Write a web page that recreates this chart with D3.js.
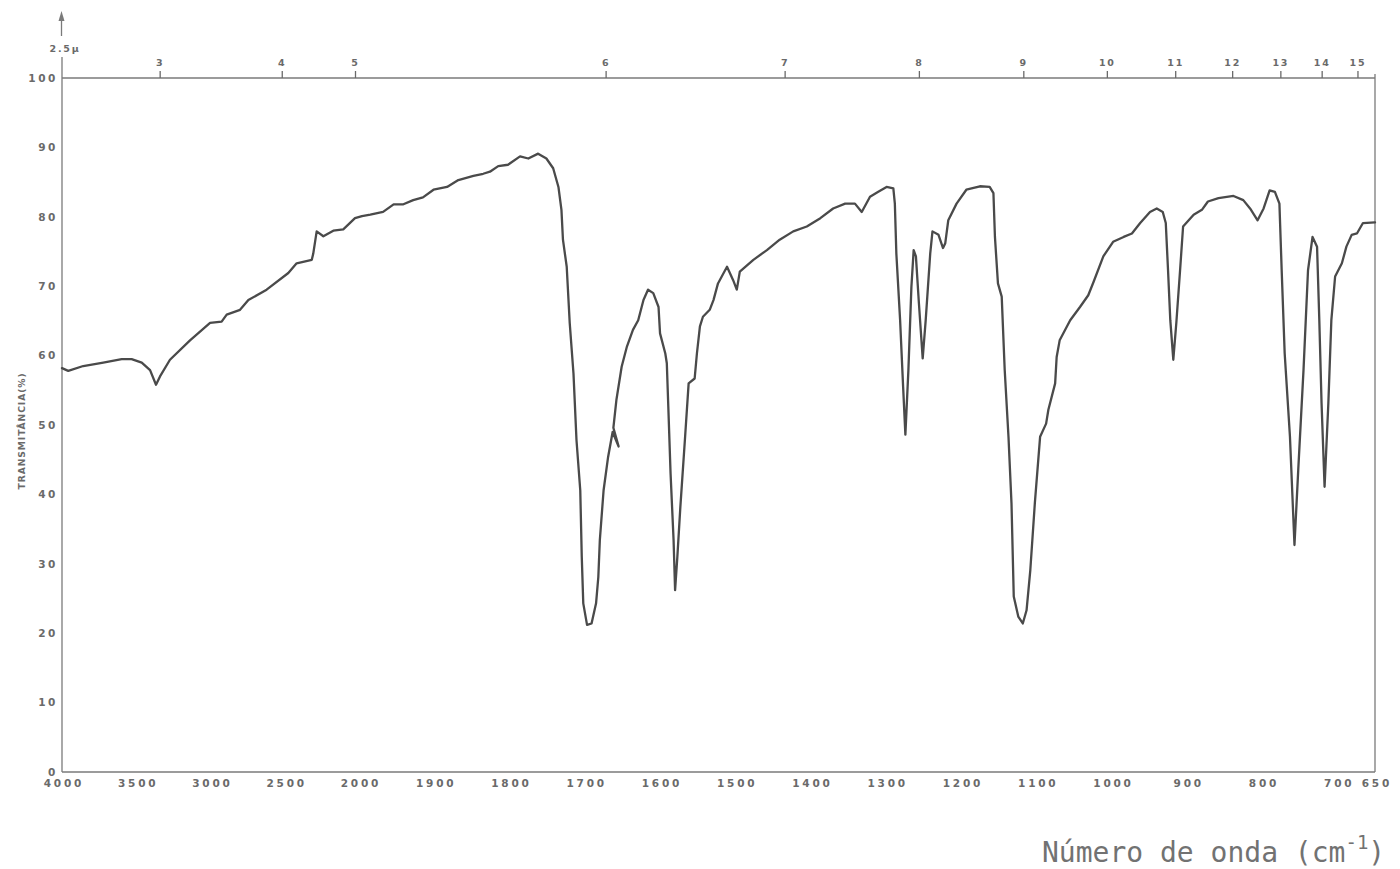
<!DOCTYPE html>
<html>
<head>
<meta charset="utf-8">
<script src="https://cdn.jsdelivr.net/npm/d3@7"></script>
<style>
  html, body { margin: 0; padding: 0; background: #fff; }
  svg { display: block; }
</style>
</head>
<body>
<svg id="chart" width="1400" height="869"></svg>
<script>
// Infrared spectrum: wavenumber (cm-1) vs transmittance (%)
const wavenumber = [
  4000, 3958, 3857, 3722, 3598, 3531, 3463, 3407, 3367, 3340,
  3273, 3138, 3003, 2925, 2891, 2801, 2745, 2622, 2476, 2420,
  2318, 2308, 2285, 2240, 2173, 2106, 2027, 1996, 1985, 1968,
  1954, 1941, 1928, 1915, 1901, 1883, 1868, 1848, 1835, 1826,
  1815, 1802, 1786, 1775, 1762, 1751, 1742, 1735, 1731, 1729,
  1724, 1720, 1715, 1711, 1706, 1704, 1702, 1697, 1691, 1685,
  1682, 1680, 1675, 1669, 1663, 1655, 1662, 1658, 1651, 1644,
  1636, 1629, 1622, 1616, 1609, 1602, 1600, 1593, 1591, 1589,
  1586, 1582, 1580, 1577, 1573, 1567, 1562, 1554, 1551, 1547,
  1543, 1534, 1529, 1523, 1518, 1511, 1503, 1498, 1494, 1476,
  1458, 1441, 1423, 1405, 1387, 1370, 1354, 1341, 1332, 1321,
  1310, 1299, 1290, 1288, 1286, 1281, 1277, 1274, 1270, 1266,
  1263, 1260, 1256, 1251, 1247, 1241, 1238, 1230, 1224, 1221,
  1217, 1206, 1193, 1175, 1162, 1157, 1155, 1151, 1146, 1142,
  1137, 1133, 1130, 1124, 1118, 1113, 1108, 1102, 1095, 1087,
  1084, 1075, 1073, 1069, 1055, 1042, 1031, 1024, 1011, 998,
  984, 973, 962, 949, 940, 932, 928, 925, 922, 918,
  914, 909, 905, 891, 880, 872, 858, 838, 825, 816,
  806, 798, 790, 783, 777, 774, 770, 763, 757, 752,
  745, 739, 733, 727, 724, 721, 717, 712, 708, 703,
  694, 688, 681, 674, 666, 650
];
const transmittance = [
  58.2, 57.8, 58.5, 59.0, 59.5, 59.5, 59.0, 57.9, 55.8, 57.0,
  59.4, 62.2, 64.7, 64.9, 65.9, 66.6, 68.0, 69.5, 71.9, 73.3,
  73.8, 74.7, 77.9, 77.2, 78.0, 78.2, 79.8, 80.1, 80.3, 80.7,
  81.8, 81.8, 82.4, 82.8, 83.9, 84.3, 85.3, 85.9, 86.2, 86.5,
  87.3, 87.5, 88.7, 88.4, 89.1, 88.4, 87.0, 84.3, 81.0, 76.7,
  72.8, 64.7, 57.4, 47.8, 40.6, 31.0, 24.3, 21.2, 21.4, 24.3,
  28.1, 33.4, 40.6, 45.4, 49.0, 46.9, 49.6, 53.6, 58.4, 61.3,
  63.7, 65.1, 68.0, 69.5, 69.0, 67.0, 63.2, 60.3, 58.9, 52.6,
  43.0, 33.4, 26.2, 31.0, 38.2, 47.8, 56.0, 56.7, 60.3, 64.2,
  65.6, 66.6, 68.0, 70.4, 71.4, 72.8, 70.9, 69.5, 72.1, 73.8,
  75.2, 76.7, 77.9, 78.6, 79.8, 81.2, 81.9, 81.9, 80.7, 82.9,
  83.6, 84.3, 84.1, 81.9, 74.7, 65.1, 55.5, 48.6, 57.9, 69.9,
  75.2, 74.3, 67.5, 59.6, 65.1, 74.7, 77.9, 77.4, 75.5, 76.2,
  79.5, 81.9, 83.9, 84.4, 84.3, 83.4, 77.1, 70.4, 68.5, 57.9,
  48.3, 38.7, 25.3, 22.4, 21.4, 23.3, 29.1, 38.7, 48.3, 50.2,
  52.2, 56.0, 59.8, 62.2, 65.1, 67.0, 68.7, 70.6, 74.3, 76.4,
  77.1, 77.6, 79.1, 80.7, 81.2, 80.7, 79.1, 72.3, 65.1, 59.4,
  64.7, 72.3, 78.6, 80.3, 81.0, 82.2, 82.7, 83.0, 82.4, 81.2,
  79.5, 81.2, 83.8, 83.6, 81.9, 72.3, 60.3, 48.3, 32.7, 43.5,
  57.9, 72.3, 77.1, 75.7, 65.1, 53.1, 41.1, 53.1, 65.1, 71.4,
  73.3, 75.7, 77.4, 77.6, 79.1, 79.2
];

// Axis labels
const wavenumberTicks = [4000, 3500, 3000, 2500, 2000, 1900, 1800, 1700, 1600, 1500,
                         1400, 1300, 1200, 1100, 1000, 900, 800, 700, 650];
const micronTicks = [3, 4, 5, 6, 7, 8, 9, 10, 11, 12, 13, 14, 15];
const micronStartLabel = "2.5\u03bc";
const transmittanceTicks = [0, 10, 20, 30, 40, 50, 60, 70, 80, 90, 100];
const yTitle = "TRANSMITÂNCIA(%)";

const svg = d3.select("#chart");
const plotLeft = 62, plotRight = 1375, plotTop = 78, plotBottom = 772;

// Chart paper: two linear regions, scale change at 2000 cm-1
const x = d3.scaleLinear().domain([4000, 2000, 650]).range([plotLeft, 359, plotRight]);
// Wavelength scale printed along the top edge of the paper
const xTop = d3.scaleLinear().domain([4000, 2000, 650]).range([plotLeft, 355, 1370]);
const y = d3.scaleLinear().domain([0, 100]).range([plotBottom, plotTop]);

const ink = "#6a6a6a";
const labelFont = "'DejaVu Sans', sans-serif";

// Frame
const frame = svg.append("g").attr("stroke", "#7a7a7a").attr("stroke-width", 1.3).attr("fill", "none");
frame.append("line").attr("x1", plotLeft).attr("x2", plotRight).attr("y1", plotTop).attr("y2", plotTop);
frame.append("line").attr("x1", plotLeft).attr("x2", plotRight).attr("y1", plotBottom).attr("y2", plotBottom);
frame.append("line").attr("x1", plotLeft).attr("x2", plotLeft).attr("y1", 57).attr("y2", plotBottom);
frame.append("line").attr("x1", plotRight).attr("x2", plotRight).attr("y1", plotTop - 4).attr("y2", plotBottom);

// Arrow above the left edge
frame.append("line").attr("x1", plotLeft - 0.5).attr("x2", plotLeft - 0.5).attr("y1", 16).attr("y2", 36);
svg.append("path")
  .attr("d", `M${plotLeft - 3.5},21 L${plotLeft - 0.5},11 L${plotLeft + 2.5},21 Z`)
  .attr("fill", "#7a7a7a");

// Top wavelength axis
const topAxis = svg.append("g")
  .attr("transform", `translate(0,${plotTop})`)
  .call(d3.axisTop(xTop)
    .tickValues(micronTicks.map(m => 10000 / m))
    .tickFormat((d, i) => String(micronTicks[i]))
    .tickSize(7)
    .tickPadding(5));
topAxis.select(".domain").remove();
topAxis.selectAll(".tick line").attr("stroke", "#6a6a6a").attr("stroke-width", 1.3);
topAxis.selectAll(".tick text")
  .attr("fill", ink).attr("font-family", labelFont).attr("font-size", 9.5)
  .attr("font-weight", "bold").attr("letter-spacing", 1.8);

svg.append("text")
  .attr("x", plotLeft + 3).attr("y", 52)
  .attr("text-anchor", "middle")
  .attr("fill", ink).attr("font-family", labelFont).attr("font-size", 9.5)
  .attr("font-weight", "bold").attr("letter-spacing", 1.8)
  .text(micronStartLabel);

// Bottom wavenumber labels
const bottomAxis = svg.append("g")
  .attr("transform", `translate(0,${plotBottom})`)
  .call(d3.axisBottom(x)
    .tickValues(wavenumberTicks)
    .tickFormat(d3.format("d"))
    .tickSize(0)
    .tickPadding(8));
bottomAxis.select(".domain").remove();
bottomAxis.selectAll(".tick text")
  .attr("fill", ink).attr("font-family", labelFont).attr("font-size", 10.5)
  .attr("font-weight", "bold").attr("letter-spacing", 2.8)
  .attr("dx", 1.4);

// Left transmittance labels
const leftAxis = svg.append("g")
  .attr("transform", `translate(${plotLeft},0)`)
  .call(d3.axisLeft(y)
    .tickValues(transmittanceTicks)
    .tickFormat(d3.format("d"))
    .tickSize(0)
    .tickPadding(4));
leftAxis.select(".domain").remove();
leftAxis.selectAll(".tick text")
  .attr("fill", ink).attr("font-family", labelFont).attr("font-size", 10.5)
  .attr("font-weight", "bold").attr("letter-spacing", 2.6);

// Y title
svg.append("text")
  .attr("transform", `translate(25,${y(50) + 6}) rotate(-90)`)
  .attr("text-anchor", "middle")
  .attr("fill", ink).attr("font-family", labelFont).attr("font-size", 9.2)
  .attr("font-weight", "bold").attr("letter-spacing", 0.9)
  .text(yTitle);

// X title
const xTitle = svg.append("text")
  .attr("x", 1042).attr("y", 862)
  .attr("fill", "#727272")
  .attr("font-family", "'DejaVu Sans Mono', 'Liberation Mono', monospace")
  .attr("font-size", 28);
xTitle.append("tspan").text("Número de onda (cm");
xTitle.append("tspan").attr("dy", -13).attr("font-size", 19).text("-1");
xTitle.append("tspan").attr("dy", 13).text(")");

// Spectrum trace
const points = wavenumber.map((w, i) => [w, transmittance[i]]);
const line = d3.line()
  .x(d => x(d[0]))
  .y(d => y(d[1]))
  .curve(d3.curveLinear);

svg.append("path")
  .datum(points)
  .attr("d", line)
  .attr("fill", "none")
  .attr("stroke", "#4a4a4a")
  .attr("stroke-width", 2.3)
  .attr("stroke-linejoin", "round")
  .attr("stroke-linecap", "round");
</script>
</body>
</html>
